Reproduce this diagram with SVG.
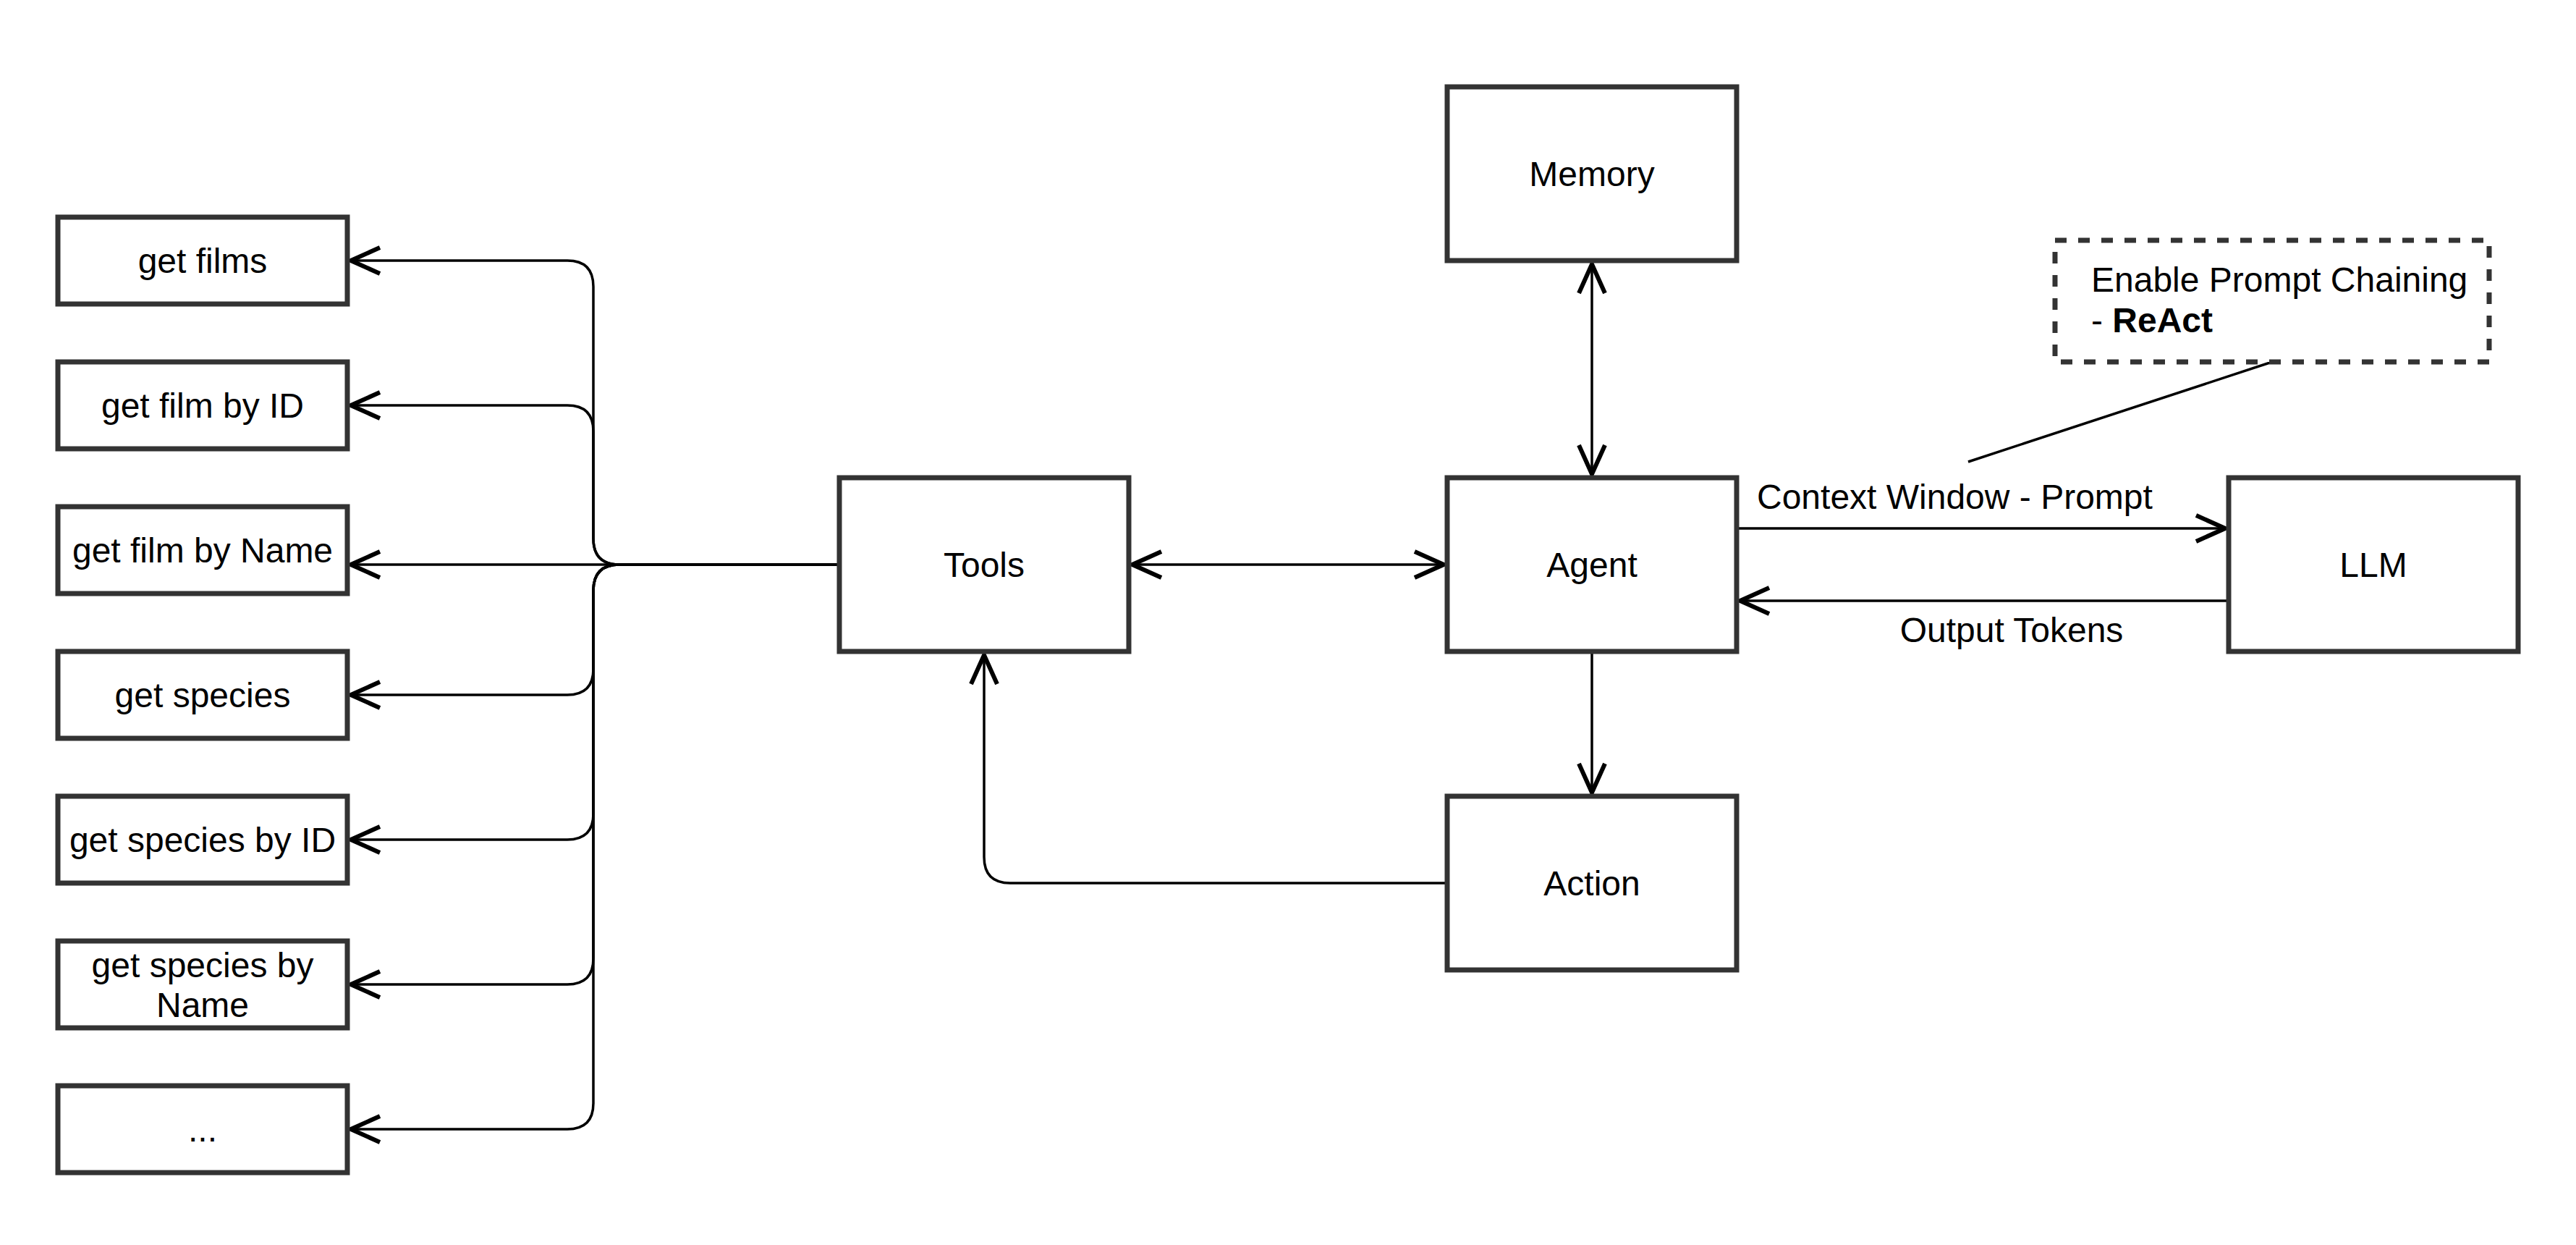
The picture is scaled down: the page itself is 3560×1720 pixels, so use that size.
<svg xmlns="http://www.w3.org/2000/svg" width="3560" height="1720" viewBox="0 0 3560 1720">
<style>
.box{fill:#fff;stroke:#333;stroke-width:7}
.lbl{font-family:"Liberation Sans",Arial,sans-serif;font-size:48px;fill:#000;text-anchor:middle}
.lft{text-anchor:start}
.edge{fill:none;stroke:#000;stroke-width:3.5}
</style>
<defs>
<marker id="open" viewBox="-50 -24 54 48" markerWidth="54" markerHeight="48" refX="0" refY="0" orient="auto-start-reverse" markerUnits="userSpaceOnUse">
<path d="M-43,-18 L-3,0 L-43,18" fill="none" stroke="#000" stroke-width="6"/>
</marker>
</defs>
<rect width="3560" height="1720" fill="#fff"/>
<g id="connectors">
<path class="edge" marker-end="url(#open)" d="M1160,780 H856 Q820,780 820,744 V396 Q820,360 784,360 H482"/>
<path class="edge" marker-end="url(#open)" d="M1160,780 H856 Q820,780 820,744 V596 Q820,560 784,560 H482"/>
<path class="edge" marker-end="url(#open)" d="M1160,780 H482"/>
<path class="edge" marker-end="url(#open)" d="M1160,780 H856 Q820,780 820,816 V924 Q820,960 784,960 H482"/>
<path class="edge" marker-end="url(#open)" d="M1160,780 H856 Q820,780 820,816 V1124 Q820,1160 784,1160 H482"/>
<path class="edge" marker-end="url(#open)" d="M1160,780 H856 Q820,780 820,816 V1324 Q820,1360 784,1360 H482"/>
<path class="edge" marker-end="url(#open)" d="M1160,780 H856 Q820,780 820,816 V1524 Q820,1560 784,1560 H482"/>
<path class="edge" marker-start="url(#open)" marker-end="url(#open)" d="M1562,780 H1998"/>
<path class="edge" marker-start="url(#open)" marker-end="url(#open)" d="M2200,362 V658"/>
<path class="edge" marker-end="url(#open)" d="M2200,900 V1098"/>
<path class="edge" marker-end="url(#open)" d="M2000,1220 H1396 Q1360,1220 1360,1184 V902"/>
<path class="edge" marker-end="url(#open)" d="M2400,730 H3078"/>
<path class="edge" marker-end="url(#open)" d="M3080,830 H2402"/>
<path class="edge" d="M3140,500 L2720,638"/>
<text class="lbl lft" x="2428" y="703">Context Window - Prompt</text>
<text class="lbl" x="2780" y="887">Output Tokens</text>
</g>
<g id="get-films"><rect class="box" x="80" y="300" width="400" height="120"/><text class="lbl" x="280" y="377">get films</text></g>
<g id="get-film-by-id"><rect class="box" x="80" y="500" width="400" height="120"/><text class="lbl" x="280" y="577">get film by ID</text></g>
<g id="get-film-by-name"><rect class="box" x="80" y="700" width="400" height="120"/><text class="lbl" x="280" y="777">get film by Name</text></g>
<g id="get-species"><rect class="box" x="80" y="900" width="400" height="120"/><text class="lbl" x="280" y="977">get species</text></g>
<g id="get-species-by-id"><rect class="box" x="80" y="1100" width="400" height="120"/><text class="lbl" x="280" y="1177">get species by ID</text></g>
<g id="get-species-by-name"><rect class="box" x="80" y="1300" width="400" height="120"/><text class="lbl" x="280" y="1350">get species by</text><text class="lbl" x="280" y="1405">Name</text></g>
<g id="more"><rect class="box" x="80" y="1500" width="400" height="120"/><text class="lbl" x="280" y="1577">...</text></g>
<g id="tools"><rect class="box" x="1160" y="660" width="400" height="240"/><text class="lbl" x="1360" y="797">Tools</text></g>
<g id="memory"><rect class="box" x="2000" y="120" width="400" height="240"/><text class="lbl" x="2200" y="257">Memory</text></g>
<g id="agent"><rect class="box" x="2000" y="660" width="400" height="240"/><text class="lbl" x="2200" y="797">Agent</text></g>
<g id="action"><rect class="box" x="2000" y="1100" width="400" height="240"/><text class="lbl" x="2200" y="1237">Action</text></g>
<g id="llm"><rect class="box" x="3080" y="660" width="400" height="240"/><text class="lbl" x="3280" y="797">LLM</text></g>
<g id="note"><rect x="2840" y="332" width="600" height="168" fill="#fff" stroke="#333" stroke-width="7" stroke-dasharray="16 16"/><text class="lbl lft" x="2890" y="403">Enable Prompt Chaining</text><text class="lbl lft" x="2890" y="459">- <tspan font-weight="bold">ReAct</tspan></text></g>
</svg>
